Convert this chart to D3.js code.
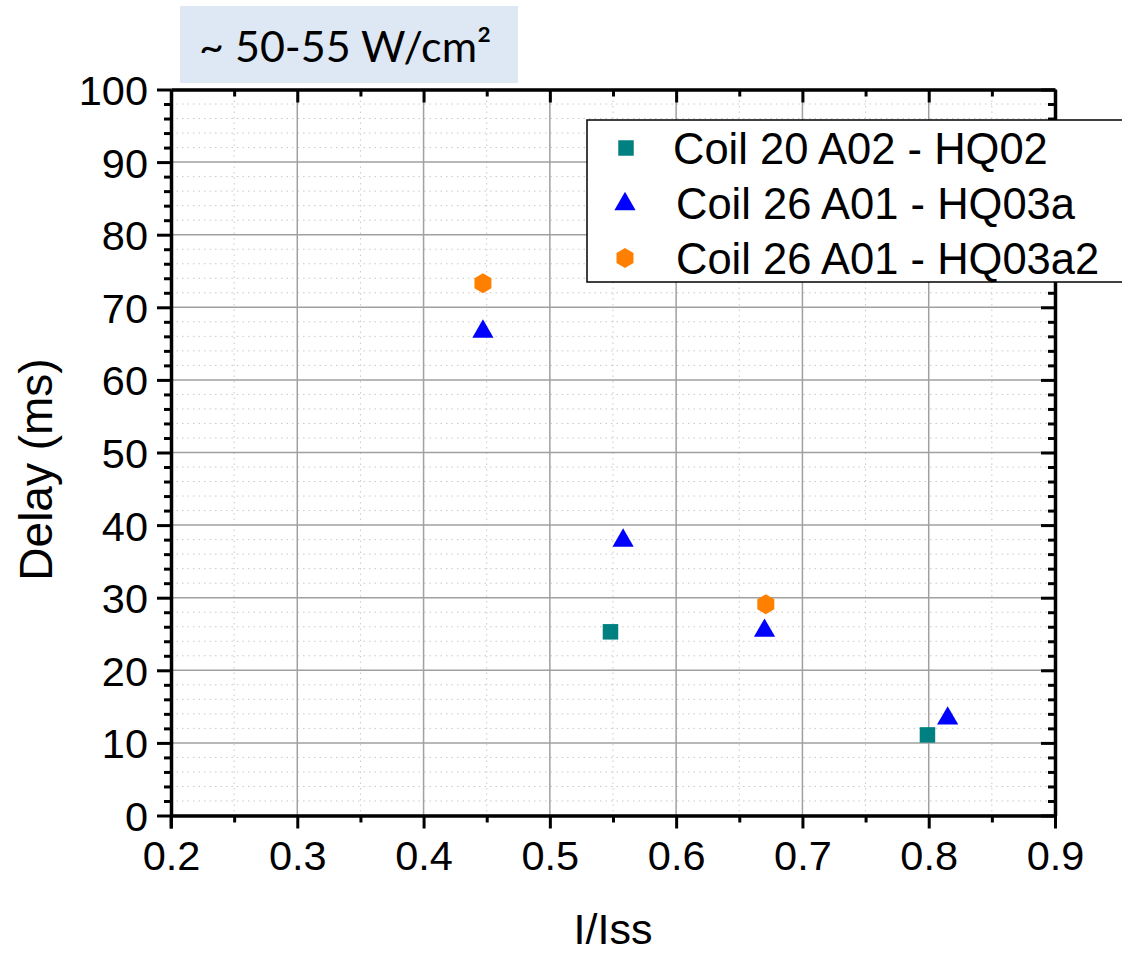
<!DOCTYPE html>
<html><head><meta charset="utf-8">
<script src="https://cdn.jsdelivr.net/npm/d3@7/dist/d3.min.js"></script>
<style>body{margin:0;background:#fff}</style>
</head><body>
<svg id="c" width="1122" height="955"></svg>
<script>
const coil20 = [{x:0.548,y:25.3},{x:0.799,y:11.1}];
const coil26a = [{x:0.447,y:66.8},{x:0.558,y:38.0},{x:0.670,y:25.6},{x:0.815,y:13.5}];
const coil26a2 = [{x:0.447,y:73.3},{x:0.671,y:29.1}];
const seriesNames = ["Coil 20 A02 - HQ02","Coil 26 A01 - HQ03a","Coil 26 A01 - HQ03a2"];
const xTicks = [0.2,0.3,0.4,0.5,0.6,0.7,0.8,0.9];
const yTicks = [0,10,20,30,40,50,60,70,80,90,100];
const titleText = "~ 50-55 W/cm²";

const svg = d3.select("#c");
const L=171, R=1055, T=89.5, B=815.5;
const x = d3.scaleLinear().domain([0.2,0.9]).range([L,R]);
const y = d3.scaleLinear().domain([0,100]).range([B,T]);
const font = "Liberation Sans, Arial, sans-serif";

const xMinor = d3.range(0.2,0.9001,0.05);
const yMinor = d3.range(0,100.001,2);

// minor grid dotted
const g = svg.append("g");
g.selectAll(".mgx").data(xMinor.filter((d,i)=>i%2==1)).enter().append("line")
 .attr("x1",d=>x(d)).attr("x2",d=>x(d)).attr("y1",T).attr("y2",B)
 .attr("stroke","#c8c8c8").attr("stroke-width",1).attr("stroke-dasharray","1.5,4");
g.selectAll(".mgy").data(yMinor.filter(d=>d%10!=0)).enter().append("line")
 .attr("x1",L).attr("x2",R).attr("y1",d=>y(d)).attr("y2",d=>y(d))
 .attr("stroke","#c8c8c8").attr("stroke-width",1).attr("stroke-dasharray","1.5,4");
// major grid
g.selectAll(".gx").data(xTicks).enter().append("line")
 .attr("x1",d=>x(d)).attr("x2",d=>x(d)).attr("y1",T).attr("y2",B)
 .attr("stroke","#a0a0a0").attr("stroke-width",1.5);
g.selectAll(".gy").data(yTicks).enter().append("line")
 .attr("x1",L).attr("x2",R).attr("y1",d=>y(d)).attr("y2",d=>y(d))
 .attr("stroke","#a0a0a0").attr("stroke-width",1.5);

// axes
function styleAxis(sel){
  sel.select(".domain").attr("stroke","#000").attr("stroke-width",3.5);
  sel.selectAll(".tick line").attr("stroke","#000").attr("stroke-width",3);
  sel.selectAll("text").attr("font-family",font).attr("font-size",41.5).attr("fill","#000");
}
const ax = svg.append("g").attr("transform",`translate(0,${B})`)
 .call(d3.axisBottom(x).tickValues(xTicks).tickFormat(d3.format(".1f")).tickSize(13).tickSizeOuter(0).tickPadding(12));
styleAxis(ax);
const axm = svg.append("g").attr("transform",`translate(0,${B})`)
 .call(d3.axisBottom(x).tickValues(xMinor.filter((d,i)=>i%2==1)).tickFormat("").tickSize(7).tickSizeOuter(0));
styleAxis(axm); axm.select(".domain").remove();

const ay = svg.append("g").attr("transform",`translate(${L},0)`)
 .call(d3.axisLeft(y).tickValues(yTicks).tickSize(14).tickSizeOuter(0).tickPadding(9));
styleAxis(ay);
ay.selectAll("text").attr("dy","0.36em");
const aym = svg.append("g").attr("transform",`translate(${L},0)`)
 .call(d3.axisLeft(y).tickValues(yMinor.filter(d=>d%10!=0)).tickFormat("").tickSize(7).tickSizeOuter(0));
styleAxis(aym); aym.select(".domain").remove();

// top axis (ticks inward)
const at = svg.append("g").attr("transform",`translate(0,${T})`)
 .call(d3.axisBottom(x).tickValues(xTicks).tickFormat("").tickSize(13).tickSizeOuter(0));
styleAxis(at);
const atm = svg.append("g").attr("transform",`translate(0,${T})`)
 .call(d3.axisBottom(x).tickValues(xMinor.filter((d,i)=>i%2==1)).tickFormat("").tickSize(7).tickSizeOuter(0));
styleAxis(atm); atm.select(".domain").remove();
// right axis (ticks inward)
const ar = svg.append("g").attr("transform",`translate(${R},0)`)
 .call(d3.axisLeft(y).tickValues(yTicks).tickFormat("").tickSize(14).tickSizeOuter(0));
styleAxis(ar);
const arm = svg.append("g").attr("transform",`translate(${R},0)`)
 .call(d3.axisLeft(y).tickValues(yMinor.filter(d=>d%10!=0)).tickFormat("").tickSize(7).tickSizeOuter(0));
styleAxis(arm); arm.select(".domain").remove();
svg.append("line").attr("x1",L).attr("x2",L).attr("y1",B).attr("y2",B+13).attr("stroke","#000").attr("stroke-width",3);

// axis titles
svg.append("text").attr("x",(L+R)/2).attr("y",944).attr("text-anchor","middle")
 .attr("font-family",font).attr("font-size",43).text("I/Iss");
svg.append("text").attr("transform",`translate(52,${(T+B)/2+17}) rotate(-90)`).attr("text-anchor","middle")
 .attr("font-family",font).attr("font-size",46).text("Delay (ms)");

// markers
const sym = {
  sq: d3.symbol().type(d3.symbolSquare).size(15.5*15.5),
  tri: d3.symbol().type(d3.symbolTriangle).size(195),
};
function hexPath(r){ // pointy top
  let p=[]; for(let i=0;i<6;i++){const a=Math.PI/3*i - Math.PI/2; p.push([r*0.98*Math.cos(a), r*Math.sin(a)]);}
  return "M"+p.map(q=>q.join(",")).join("L")+"Z";
}
const hx = hexPath(10);
const pts = svg.append("g");
pts.selectAll(".s").data(coil20).enter().append("path").attr("d",sym.sq())
 .attr("transform",d=>`translate(${x(d.x)},${y(d.y)})`).attr("fill","#008080");
pts.selectAll(".t").data(coil26a).enter().append("path").attr("d",sym.tri())
 .attr("transform",d=>`translate(${x(d.x)},${y(d.y)+1})`).attr("fill","#0000ff");
pts.selectAll(".h").data(coil26a2).enter().append("path").attr("d",hx)
 .attr("transform",d=>`translate(${x(d.x)},${y(d.y)})`).attr("fill","#ff8000");

// legend
const lg = svg.append("g");
lg.append("rect").attr("x",587).attr("y",120).attr("width",560).attr("height",162)
 .attr("fill","#fff").attr("stroke","#000").attr("stroke-width",1.5);
const ly=[148,203,258];
lg.append("path").attr("d",sym.sq()).attr("transform",`translate(626,${ly[0]})`).attr("fill","#008080");
lg.append("path").attr("d",sym.tri()).attr("transform",`translate(625,${ly[1]+1})`).attr("fill","#0000ff");
lg.append("path").attr("d",hx).attr("transform",`translate(625,${ly[2]})`).attr("fill","#ff8000");
seriesNames.forEach((n,i)=>{
  lg.append("text").attr("x",i==0?673:676).attr("y",ly[i]+16).attr("font-family",font)
   .attr("font-size",43.5).text(n);
});

// title box
svg.append("rect").attr("x",180).attr("y",6).attr("width",338).attr("height",77).attr("fill","#dde8f4");
svg.append("text").attr("x",199).attr("y",62).attr("font-family","Lato, Carlito, sans-serif")
 .attr("font-size",43).attr("fill","#000").text(titleText);
</script>
</body></html>
